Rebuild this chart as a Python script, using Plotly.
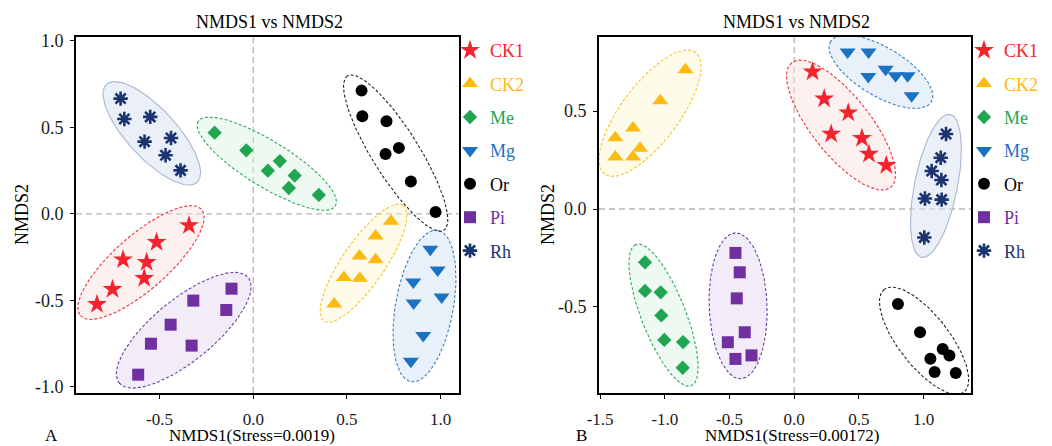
import numpy as np
import plotly.graph_objects as go

# ---------------- data ----------------
groups = ["CK1", "CK2", "Me", "Mg", "Or", "Pi", "Rh"]

# Panel A
a_CK1_x = [-0.343, -0.516, -0.695, -0.569, -0.582, -0.751, -0.834]
a_CK1_y = [-0.066, -0.164, -0.264, -0.279, -0.372, -0.435, -0.522]
a_CK2_x = [0.735, 0.653, 0.567, 0.653, 0.484, 0.569, 0.432]
a_CK2_y = [-0.042, -0.127, -0.243, -0.264, -0.368, -0.372, -0.520]
a_Me_x = [-0.206, -0.037, 0.078, 0.142, 0.221, 0.190, 0.350]
a_Me_y = [0.470, 0.368, 0.250, 0.306, 0.222, 0.150, 0.110]
a_Mg_x = [0.945, 0.984, 0.854, 1.005, 0.856, 0.907, 0.841]
a_Mg_y = [-0.204, -0.324, -0.393, -0.480, -0.514, -0.703, -0.852]
a_Or_x = [0.578, 0.582, 0.711, 0.777, 0.706, 0.841, 0.973]
a_Or_y = [0.713, 0.565, 0.536, 0.382, 0.347, 0.187, 0.012]
a_Pi_x = [-0.116, -0.320, -0.144, -0.441, -0.546, -0.329, -0.614]
a_Pi_y = [-0.432, -0.501, -0.555, -0.640, -0.750, -0.761, -0.929]
a_Rh_x = [-0.708, -0.688, -0.550, -0.580, -0.439, -0.468, -0.388]
a_Rh_y = [0.667, 0.549, 0.561, 0.418, 0.439, 0.339, 0.252]

# Panel B
b_CK1_x = [0.142, 0.232, 0.418, 0.286, 0.524, 0.578, 0.712]
b_CK1_y = [0.701, 0.563, 0.491, 0.383, 0.361, 0.281, 0.223]
b_CK2_x = [-0.841, -1.035, -1.246, -1.383, -1.192, -1.383, -1.246]
b_CK2_y = [0.711, 0.553, 0.413, 0.364, 0.310, 0.265, 0.265]
b_Me_x = [-1.153, -1.153, -1.032, -1.027, -1.004, -0.859, -0.862]
b_Me_y = [-0.272, -0.418, -0.425, -0.543, -0.668, -0.679, -0.810]
b_Mg_x = [0.413, 0.575, 0.573, 0.707, 0.784, 0.877, 0.908]
b_Mg_y = [0.801, 0.801, 0.677, 0.714, 0.680, 0.680, 0.578]
b_Or_x = [0.802, 0.973, 1.148, 1.053, 1.200, 1.086, 1.249]
b_Or_y = [-0.485, -0.629, -0.714, -0.764, -0.748, -0.832, -0.837]
b_Pi_x = [-0.454, -0.421, -0.444, -0.382, -0.513, -0.330, -0.454]
b_Pi_y = [-0.224, -0.323, -0.456, -0.629, -0.680, -0.747, -0.765]
b_Rh_x = [1.174, 1.133, 1.063, 1.138, 1.011, 1.140, 1.006]
b_Rh_y = [0.383, 0.262, 0.194, 0.148, 0.054, 0.048, -0.145]

a_xticks = [-0.5, 0.0, 0.5, 1.0]
a_yticks = [-1.0, -0.5, 0.0, 0.5, 1.0]
b_xticks = [-1.5, -1.0, -0.5, 0.0, 0.5, 1.0]
b_yticks = [-0.5, 0.0, 0.5]

# ---------------- layout geometry ----------------
W, H = 1052, 446
A_dom_x = [76, 459]      # pixel extents of panel A plot area
B_dom_x = [599, 971]
dom_y = [37, 393]        # from top
A_xr, A_yr = [-0.946, 1.098], [-1.035, 1.023]
B_xr, B_yr = [-1.509, 1.367], [-0.939, 0.878]

# ---------------- styles ----------------
FONT = "Liberation Serif, Times New Roman, serif"
FS = 18
FS_X = 17
color = {"CK1": "#F5232D", "CK2": "#FDBA12", "Me": "#1FA650", "Mg": "#1B72C0",
         "Or": "#000000", "Pi": "#7030A0", "Rh": "#1A3471"}
symbol = {"CK1": "star", "CK2": "triangle-up", "Me": "diamond", "Mg": "triangle-down",
          "Or": "circle", "Pi": "square", "Rh": "asterisk-open"}
msize = {"CK1": 15, "CK2": 14, "Me": 11, "Mg": 14, "Or": 12, "Pi": 12, "Rh": 12}
efill = {"CK1": "rgba(250,225,220,0.45)", "CK2": "rgba(255,246,205,0.4)",
         "Me": "rgba(215,242,225,0.45)", "Mg": "rgba(210,228,245,0.5)",
         "Or": "rgba(255,255,255,0)", "Pi": "rgba(228,218,242,0.5)",
         "Rh": "rgba(220,228,244,0.6)"}
eline = {"CK1": "#E8323C", "CK2": "#F2C62A", "Me": "#30A860", "Mg": "#3A80C0",
         "Or": "#222222", "Pi": "#6A3FA0", "Rh": "#A9B8CF"}
edash = {"CK1": "3px,2px", "CK2": "3px,2px", "Me": "3px,2px", "Mg": "3px,2px",
         "Or": "3px,2px", "Pi": "3px,2px", "Rh": "solid"}

panels = {
    "A": {"CK1": (a_CK1_x, a_CK1_y), "CK2": (a_CK2_x, a_CK2_y), "Me": (a_Me_x, a_Me_y),
          "Mg": (a_Mg_x, a_Mg_y), "Or": (a_Or_x, a_Or_y), "Pi": (a_Pi_x, a_Pi_y),
          "Rh": (a_Rh_x, a_Rh_y)},
    "B": {"CK1": (b_CK1_x, b_CK1_y), "CK2": (b_CK2_x, b_CK2_y), "Me": (b_Me_x, b_Me_y),
          "Mg": (b_Mg_x, b_Mg_y), "Or": (b_Or_x, b_Or_y), "Pi": (b_Pi_x, b_Pi_y),
          "Rh": (b_Rh_x, b_Rh_y)},
}
scales = {
    "A": ((A_dom_x[1] - A_dom_x[0]) / (A_xr[1] - A_xr[0]),
          (dom_y[1] - dom_y[0]) / (A_yr[1] - A_yr[0])),
    "B": ((B_dom_x[1] - B_dom_x[0]) / (B_xr[1] - B_xr[0]),
          (dom_y[1] - dom_y[0]) / (B_yr[1] - B_yr[0])),
}


def enclosing_ellipse(xs, ys, sx, sy, pad_a=20.0, pad_b=13.0, n=120):
    """Ellipse oriented by PCA (in screen units) that encloses the group's points."""
    P = np.column_stack([np.asarray(xs) * sx, np.asarray(ys) * sy])
    m = P.mean(axis=0)
    vals, vecs = np.linalg.eigh(np.cov((P - m).T))
    major = vecs[:, 1]
    minor = vecs[:, 0]
    u = (P - m) @ major
    v = (P - m) @ minor
    cu = (u.max() + u.min()) / 2
    cv = (v.max() + v.min()) / 2
    u = u - cu
    v = v - cv
    a = (u.max() - u.min()) / 2 + pad_a
    b = np.max(np.abs(v) / np.sqrt(np.clip(1 - (u / a) ** 2, 0.05, 1))) + pad_b
    c = m + cu * major + cv * minor
    t = np.linspace(0, 2 * np.pi, n)
    E = np.outer(a * np.cos(t), major) + np.outer(b * np.sin(t), minor) + c
    return E[:, 0] / sx, E[:, 1] / sy


fig = go.Figure()
axes = {"A": ("x", "y", "legend"), "B": ("x2", "y2", "legend2")}

for pan, data in panels.items():
    xa, ya, lg = axes[pan]
    sx, sy = scales[pan]
    for g in groups:
        ex, ey = enclosing_ellipse(*data[g], sx, sy)
        fig.add_trace(go.Scatter(x=ex, y=ey, mode="lines", fill="toself",
                                 fillcolor=efill[g],
                                 line=dict(color=eline[g], width=1.1, dash=edash[g]),
                                 xaxis=xa, yaxis=ya, showlegend=False, hoverinfo="skip"))
    for g in groups:
        xs, ys = data[g]
        if g == "Rh":
            mk = dict(symbol=symbol[g], size=msize[g], color=color[g],
                      line=dict(color=color[g], width=2.6))
        else:
            mk = dict(symbol=symbol[g], size=msize[g], color=color[g], line=dict(width=0))
        fig.add_trace(go.Scatter(x=xs, y=ys, mode="markers", marker=mk,
                                 name=f"<span style='color:{color[g]}'>{g}</span>",
                                 legendgroup=pan + g, legend=lg,
                                 xaxis=xa, yaxis=ya))

axis_common = dict(showgrid=False, zeroline=False, showline=True, linecolor="black",
                   linewidth=2, mirror=True, ticks="outside", ticklen=4, tickwidth=1,
                   tickcolor="black", automargin=False)
yfont = dict(family=FONT, size=FS, color="#1a1a1a")
xfont = dict(family=FONT, size=FS_X, color="#1a1a1a")


def fmt(v):
    return f"{v:.1f}"


ydom = [1 - dom_y[1] / H, 1 - dom_y[0] / H]
fig.update_layout(
    width=W, height=H,
    margin=dict(l=0, r=0, t=0, b=0, pad=0, autoexpand=False),
    paper_bgcolor="white", plot_bgcolor="white",
    font=dict(family=FONT, size=FS, color="black"),
    xaxis=dict(domain=[A_dom_x[0] / W, A_dom_x[1] / W], range=A_xr,
               tickvals=a_xticks, ticktext=[fmt(v) for v in a_xticks],
               ticklabelstandoff=6, tickfont=xfont, **axis_common),
    yaxis=dict(domain=ydom, range=A_yr,
               tickvals=a_yticks, ticktext=[fmt(v) for v in a_yticks],
               ticklabelstandoff=3, tickfont=yfont, **axis_common),
    xaxis2=dict(domain=[B_dom_x[0] / W, B_dom_x[1] / W], range=B_xr,
                tickvals=b_xticks, ticktext=[fmt(v) for v in b_xticks],
                ticklabelstandoff=6, anchor="y2", tickfont=xfont, **axis_common),
    yaxis2=dict(domain=ydom, range=B_yr,
                tickvals=b_yticks, ticktext=[fmt(v) for v in b_yticks],
                ticklabelstandoff=3, anchor="x2", tickfont=yfont, **axis_common),
    legend=dict(x=450 / W, y=1 - 32 / H, xanchor="left", yanchor="top",
                bgcolor="rgba(0,0,0,0)", font=dict(family=FONT, size=FS),
                tracegroupgap=7, itemwidth=30),
    legend2=dict(x=964 / W, y=1 - 32 / H, xanchor="left", yanchor="top",
                 bgcolor="rgba(0,0,0,0)", font=dict(family=FONT, size=FS),
                 tracegroupgap=7, itemwidth=30),
)

# dashed reference lines at zero
for xa, ya in [("x", "y"), ("x2", "y2")]:
    fig.add_shape(type="line", xref=xa, yref=f"{ya} domain", x0=0, x1=0, y0=0, y1=1,
                  line=dict(color="#B5B5B5", width=1.3, dash="6px,4px"), layer="below")
    fig.add_shape(type="line", xref=f"{xa} domain", yref=ya, x0=0, x1=1, y0=0, y1=0,
                  line=dict(color="#B5B5B5", width=1.3, dash="6px,4px"), layer="below")

ann = []
ann.append(dict(text="NMDS1 vs NMDS2", x=269 / W, y=1 - 22 / H, size=FS))
ann.append(dict(text="NMDS1 vs NMDS2", x=796 / W, y=1 - 22 / H, size=FS))
ann.append(dict(text="NMDS1(Stress=0.0019)", x=252 / W, y=1 - 435 / H, size=FS_X))
ann.append(dict(text="NMDS1(Stress=0.00172)", x=792 / W, y=1 - 435 / H, size=FS_X))
ann.append(dict(text="A", x=51 / W, y=1 - 435 / H, size=FS_X))
ann.append(dict(text="B", x=581 / W, y=1 - 435 / H, size=FS_X))
for a in ann:
    sz = a.pop("size")
    a.update(xref="paper", yref="paper", showarrow=False, xanchor="center",
             yanchor="middle", font=dict(family=FONT, size=sz, color="black"))
    fig.add_annotation(**a)
for xp in [22, 548]:
    fig.add_annotation(text="NMDS2", x=xp / W, y=1 - 215 / H, xref="paper",
                       yref="paper", showarrow=False, textangle=-90,
                       xanchor="center", yanchor="middle",
                       font=dict(family=FONT, size=FS, color="black"))

fig.write_html("out.html", config={"displayModeBar": False},
               post_script="document.body.style.margin='0';document.body.style.overflow='hidden';")
